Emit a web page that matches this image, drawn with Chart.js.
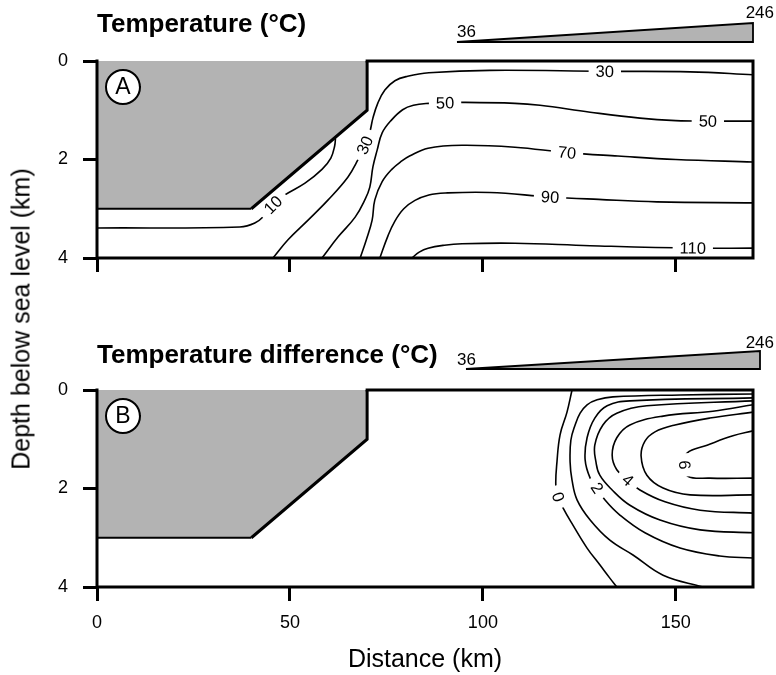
<!DOCTYPE html>
<html>
<head>
<meta charset="utf-8">
<script src="https://cdn.jsdelivr.net/npm/chart.js@4.4.1/dist/chart.umd.min.js"></script>
<style>
  html, body { margin: 0; padding: 0; background: #fff; }
  #wrap { position: relative; width: 776px; height: 675px; }
  #tempChart { position: absolute; left: 0; top: 0; }
  #diffChart { position: absolute; left: 0; top: 320px; }
  #ytitle {
    position: absolute; left: 21px; top: 319px;
    transform: translate(-50%, -50%) rotate(-90deg);
    white-space: nowrap;
    font: 25px 'Liberation Sans', Arial, sans-serif;
    color: #000;
  }
</style>
</head>
<body>
<div id="wrap">
  <canvas id="tempChart" width="776" height="320"></canvas>
  <canvas id="diffChart" width="776" height="355"></canvas>
  <div id="ytitle">Depth below sea level (km)</div>
</div>
<script>
// axes
const distTicks = [0, 50, 100, 150];
const depthTicks = [0, 2, 4];
const wedgeRange = [36, 246];

// shelf / land outline [km, depth]
const land = [[0, 3], [40, 3], [70, 1], [70, 0]];

// panel A: temperature contours
const tempLevels = [10, 30, 50, 70, 90, 110];
const temp10 = [[0, 3.39], [37, 3.37], [40.9, 3.29], [43.5, 3.13], [45.6, 2.92], [48.7, 2.72], [53.9, 2.48], [58.3, 2.2], [60.6, 1.97], [61.6, 1.72], [61.8, 1.57]];
const temp30 = [[45.6, 4], [49.5, 3.63], [54.7, 3.23], [59.9, 2.82], [65.0, 2.36], [67.6, 2.01], [69.4, 1.71], [70.7, 1.44], [71.5, 1.16], [72.8, 0.85], [74.6, 0.59], [77.2, 0.4], [80.5, 0.31], [86, 0.24], [101.8, 0.19], [131.6, 0.21], [153.7, 0.22], [170, 0.28]];
const temp50 = [[58.3, 4], [62.5, 3.57], [66.9, 3.17], [69.4, 2.82], [70.7, 2.56], [71.5, 2.15], [72.6, 1.81], [73.9, 1.46], [76.3, 1.2], [79.2, 0.99], [82, 0.9], [86, 0.86], [90.2, 0.85], [94.6, 0.84], [108.3, 0.86], [114.8, 0.9], [127.8, 1.04], [140.7, 1.16], [150, 1.21], [158.3, 1.22], [170, 1.22]];
const temp70 = [[68.2, 4], [69.8, 3.63], [71.3, 3.23], [72.0, 2.82], [73.9, 2.45], [76.4, 2.2], [79.0, 2.03], [81, 1.93], [85.8, 1.77], [94.6, 1.71], [108.3, 1.75], [121.8, 1.86], [135, 1.93], [150, 2.0], [170, 2.05]];
const temp90 = [[73.3, 4], [75.4, 3.55], [77.2, 3.25], [79.5, 3.0], [82.4, 2.83], [86, 2.72], [90.2, 2.68], [101.8, 2.67], [117.4, 2.76], [130, 2.81], [145.1, 2.86], [170, 2.88]];
const temp110 = [[81.6, 4], [83.5, 3.88], [85.8, 3.8], [90, 3.74], [94.6, 3.71], [108.3, 3.7], [127.8, 3.75], [154.4, 3.8], [170, 3.8]];
// [contour, point] where a level label sits
const tempLabelAt = [[0, 4], [1, 6], [1, 15], [2, 12], [2, 19], [3, 11], [4, 8], [5, 7]];

// panel B: temperature difference contours
const diffLevels = [0, 1, 2, 3, 4, 5, 6];
const diff0 = [[123.1, 0], [121.8, 0.45], [120.0, 0.91], [119.2, 1.46], [118.9, 1.93], [119.5, 2.17], [120.8, 2.4], [123.3, 2.74], [127.0, 3.21], [130.3, 3.55], [132.9, 3.82], [134.7, 4]];
const diff1 = [[170, 0.08], [151.1, 0.1], [133.7, 0.14], [129.6, 0.2], [127.0, 0.3], [125.2, 0.47], [123.9, 0.71], [122.8, 1.02], [122.6, 1.46], [123.1, 1.83], [124.4, 2.23], [127.8, 2.64], [132.9, 3.05], [138.9, 3.35], [146.7, 3.76], [157, 4]];
const diff2 = [[170, 0.16], [138.1, 0.22], [132.2, 0.32], [129.0, 0.57], [127.0, 0.97], [126.5, 1.42], [127.8, 1.79], [129.6, 1.99], [131.6, 2.23], [135.5, 2.54], [142.0, 2.9], [151.1, 3.21], [161.4, 3.37], [170, 3.41]];
const diff3 = [[170, 0.22], [142.5, 0.32], [134.7, 0.47], [131.1, 0.71], [129.0, 1.12], [129.3, 1.46], [130.3, 1.73], [133.5, 2.03], [138.1, 2.34], [145.9, 2.64], [156.3, 2.84], [170, 2.9]];
const diff4 = [[170, 0.3], [159.6, 0.43], [146.7, 0.53], [138.1, 0.71], [134.7, 0.97], [133.5, 1.32], [134.7, 1.62], [137.6, 1.83], [140.7, 2.03], [147.2, 2.27], [156.3, 2.44], [170, 2.5]];
const diff5 = [[170, 0.45], [158.8, 0.57], [149.8, 0.71], [144.6, 0.85], [142.0, 1.04], [141.0, 1.34], [142.5, 1.73], [146.7, 1.99], [153.7, 2.13], [170, 2.13]];
const diff6 = [[170, 0.83], [164.8, 0.93], [158.1, 1.12], [152.9, 1.28], [152.3, 1.52], [153.1, 1.75], [158.8, 1.79], [170, 1.79]];
const diffLabelAt = [[0, 5], [2, 7], [4, 7], [6, 4]];

const FONT = "'Liberation Sans', Arial, sans-serif";
Chart.defaults.font.family = FONT;
Chart.defaults.color = '#000';

const LAND_SETS = 2; // fill + outline come before the contours

function toXY(arr) {
  return arr.map(p => ({ x: p[0], y: p[1] }));
}

// level labels: white gap in the line, text along the contour
const contourLabels = {
  id: 'contourLabels',
  afterDatasetsDraw(chart, args, opts) {
    const ctx = chart.ctx;
    ctx.save();
    ctx.font = '16.5px ' + FONT;
    ctx.textAlign = 'center';
    ctx.textBaseline = 'middle';
    opts.items.forEach(([s, i]) => {
      const pts = chart.getDatasetMeta(s + LAND_SETS).data;
      const p = pts[i], a = pts[i - 1], b = pts[i + 1];
      let ang = Math.atan2(b.y - a.y, b.x - a.x);
      if (ang > Math.PI / 2) ang -= Math.PI;
      if (ang < -Math.PI / 2) ang += Math.PI;
      const text = String(opts.levels[s]);
      const w = ctx.measureText(text).width + 14;
      ctx.save();
      ctx.translate(p.x, p.y);
      ctx.rotate(ang);
      ctx.fillStyle = '#fff';
      ctx.fillRect(-w / 2, -7, w, 14);
      ctx.fillStyle = '#000';
      ctx.fillText(text, 0, 1);
      ctx.restore();
    });
    ctx.restore();
  }
};

// frame, panel title, letter and the wedge key
const decor = {
  id: 'decor',
  afterDraw(chart, args, o) {
    const { ctx, chartArea: ca, scales: { x } } = chart;
    ctx.save();
    ctx.strokeStyle = '#000';
    ctx.lineWidth = 3;
    ctx.lineCap = 'square';
    ctx.beginPath();
    ctx.moveTo(x.getPixelForValue(land[3][0]), ca.top);
    ctx.lineTo(ca.right, ca.top);
    ctx.lineTo(ca.right, ca.bottom);
    ctx.lineTo(ca.left, ca.bottom);
    ctx.lineTo(ca.left, ca.top);
    ctx.stroke();

    ctx.fillStyle = '#000';
    ctx.font = 'bold 26px ' + FONT;
    ctx.textAlign = 'left';
    ctx.textBaseline = 'alphabetic';
    ctx.fillText(o.title, ca.left, o.titleY);

    // circled letter
    const cx = ca.left + 26, cy = ca.top + 26;
    ctx.beginPath();
    ctx.arc(cx, cy, 17, 0, Math.PI * 2);
    ctx.fillStyle = '#fff';
    ctx.fill();
    ctx.lineWidth = 2;
    ctx.stroke();
    ctx.fillStyle = '#000';
    ctx.font = '23px ' + FONT;
    ctx.textAlign = 'center';
    ctx.textBaseline = 'middle';
    ctx.fillText(o.letter, cx, cy + 1);

    // wedge
    const w = o.wedge;
    ctx.beginPath();
    ctx.moveTo(w.x0, w.yb);
    ctx.lineTo(w.x1, w.yb);
    ctx.lineTo(w.x1, w.yb - w.h);
    ctx.closePath();
    ctx.fillStyle = '#b3b3b3';
    ctx.fill();
    ctx.lineWidth = 1.8;
    ctx.lineJoin = 'miter';
    ctx.lineCap = 'butt';
    ctx.stroke();
    ctx.fillStyle = '#000';
    ctx.font = '17px ' + FONT;
    ctx.textBaseline = 'alphabetic';
    ctx.textAlign = 'left';
    ctx.fillText(String(wedgeRange[0]), w.lo[0], w.lo[1]);
    ctx.textAlign = 'right';
    ctx.fillText(String(wedgeRange[1]), w.hi[0], w.hi[1]);
    ctx.restore();
  }
};

function makePanel(id, series, levels, labelAt, padTop, xHeight, showX, decorOpts) {
  const datasets = [{
    // land fill only, one path so it has no seams; drawn underneath
    data: toXY(land),
    borderWidth: 0,
    backgroundColor: '#b3b3b3',
    fill: { value: 0 },
    tension: 0,
    pointRadius: 0,
    order: 10
  }, {
    // land outline: thinner along the base
    data: toXY(land),
    borderColor: '#000',
    borderWidth: 3,
    fill: false,
    tension: 0,
    pointRadius: 0,
    order: 0,
    segment: { borderWidth: c => (c.p0DataIndex === 0 ? 2.2 : 3) }
  }].concat(series.map(s => ({
    data: toXY(s),
    borderColor: '#000',
    borderWidth: 1.6,
    tension: 0.4,
    fill: false,
    pointRadius: 0,
    order: 5
  })));

  const tickGrid = { drawOnChartArea: false, tickLength: 14, lineWidth: 3, color: '#000' };

  return new Chart(document.getElementById(id), {
    type: 'line',
    data: { datasets },
    options: {
      responsive: false,
      animation: false,
      events: [],
      layout: { padding: { top: padTop, right: 23, bottom: 0, left: 0 } },
      plugins: {
        legend: { display: false },
        tooltip: { enabled: false },
        contourLabels: { levels, items: labelAt },
        decor: decorOpts
      },
      scales: {
        x: {
          type: 'linear',
          min: 0,
          max: 170,
          afterBuildTicks: s => { s.ticks = distTicks.map(v => ({ value: v })); },
          afterFit: s => { s.height = xHeight; },
          grid: tickGrid,
          border: { display: false },
          ticks: { padding: 11, color: showX ? '#000' : 'rgba(0,0,0,0)', font: { size: 18 } },
          title: { display: showX, text: 'Distance (km)', font: { size: 25 }, color: '#000', padding: 0 }
        },
        y: {
          type: 'linear',
          reverse: true,
          min: 0,
          max: 4,
          afterBuildTicks: s => { s.ticks = depthTicks.map(v => ({ value: v })); },
          afterFit: s => { s.width = 97; },
          grid: tickGrid,
          border: { display: false },
          ticks: { padding: 15, color: '#000', font: { size: 18 } }
        }
      }
    },
    plugins: [contourLabels, decor]
  });
}

makePanel('tempChart',
  [temp10, temp30, temp50, temp70, temp90, temp110],
  tempLevels, tempLabelAt, 61, 62, false,
  { title: 'Temperature (°C)', titleY: 32, letter: 'A',
    wedge: { x0: 457, x1: 753, yb: 42, h: 19, lo: [457, 37], hi: [774, 18] } });

makePanel('diffChart',
  [diff0, diff1, diff2, diff3, diff4, diff5, diff6],
  diffLevels, diffLabelAt, 70, 88, true,
  { title: 'Temperature difference (°C)', titleY: 43, letter: 'B',
    wedge: { x0: 466, x1: 760, yb: 49, h: 18, lo: [457, 45], hi: [774, 28] } });
</script>
</body>
</html>
